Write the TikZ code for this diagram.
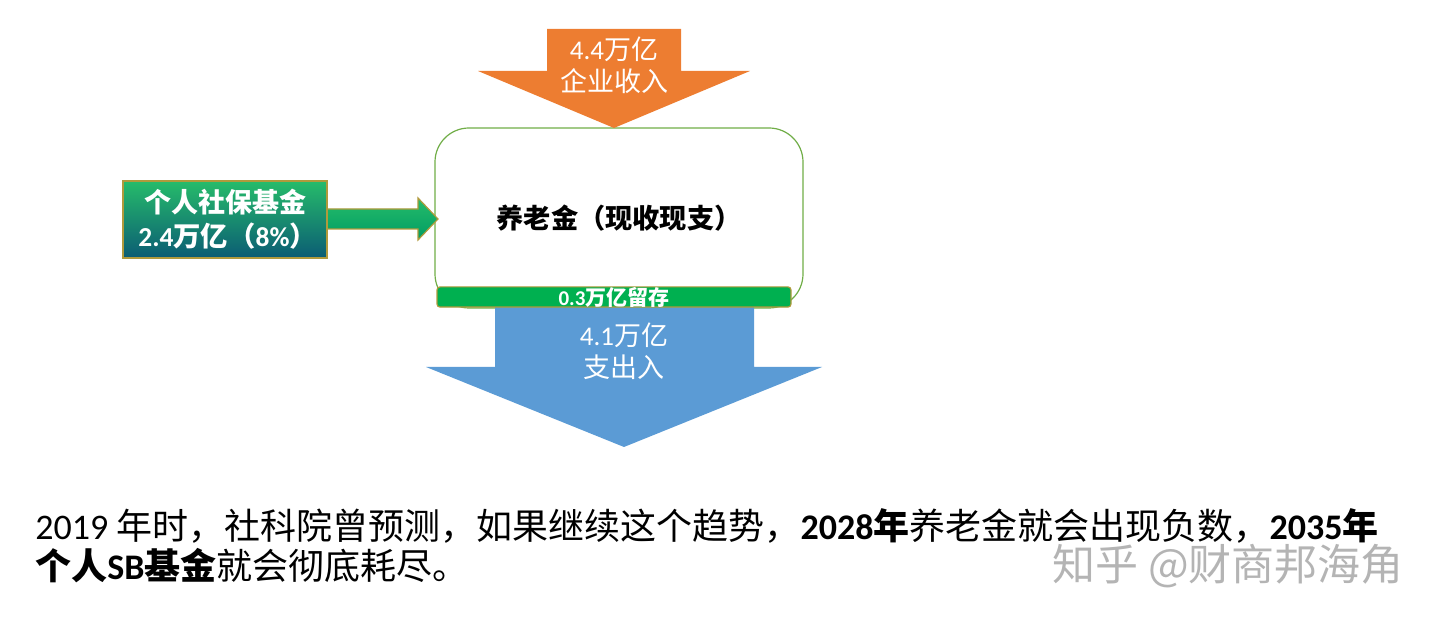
\documentclass[tikz,border=0pt]{standalone}
\usepackage{fontspec}
\setmainfont{Carlito}
\newfontfamily\cjk{Noto Sans CJK SC}
\newcommand{\zh}[1]{{\cjk #1}}
\usepackage{tikz}
\definecolor{flowborder}{HTML}{B09A3C}
\definecolor{boxborder}{HTML}{70AD47}
\definecolor{inorange}{HTML}{ED7D31}
\definecolor{outblue}{HTML}{5B9BD5}
\definecolor{keepgreen}{HTML}{00B050}
\definecolor{flowbottom}{HTML}{0B5C74}
\definecolor{marktext}{HTML}{B4B4B4}
\tikzset{
  label13/.style={text=white,font=\fontsize{13.5}{16}\selectfont,align=center,inner sep=0pt},
  flowfill/.style={top color=keepgreen!85!white,bottom color=flowbottom},
}

\begin{document}
\begin{tikzpicture}[x=0.5pt,y=-0.5pt]
  \useasboundingbox (0,0) rectangle (1440,624);

  % fund box
  \node[draw=boxborder,line width=0.6pt,rounded corners=17pt,minimum width=184pt,minimum height=90pt,
    inner sep=0pt,font=\fontsize{13.6}{16}\selectfont\bfseries] (fund) at (619,218) {\zh{养老金（现收现支）}};

  % flows in and out
  \fill[inorange] (547,29) -- (681,29) -- (681,71) -- (750,71) -- (614,128) -- (478,71) -- (547,71) -- cycle;
  \node[label13] (income) at (614,65) {4.4\zh{万亿}\\\zh{企业收入}};

  \fill[outblue] (495,300) -- (754,300) -- (754,367) -- (822,367) -- (624,447) -- (426,367) -- (495,367) -- cycle;
  \node[label13] (spend) at (624,351) {4.1\zh{万亿}\\\zh{支出入}};

  \draw[flowborder,line width=0.6pt,top color=keepgreen!85!white,bottom color=keepgreen!60!teal]
    (320,209) -- (418,209) -- (418,198) -- (438,219) -- (418,240) -- (418,229) -- (320,229) -- cycle;
  \node[draw=flowborder,line width=0.8pt,flowfill,minimum width=102pt,minimum height=38.5pt,inner sep=0pt] (personal) at (225,219.5) {};
  \node[text=white,font=\fontsize{13.5}{16}\selectfont\bfseries,inner sep=0pt] (personaltop) at (225,202) {\zh{个人社保基金}};
  \node[text=white,font=\fontsize{13.7}{16}\selectfont\bfseries,inner sep=0pt,anchor=west] (personalsum) at (138,236) {2.4\zh{万亿（}8\%\zh{）}};

  \node[draw=flowborder,line width=0.6pt,fill=keepgreen,rounded corners=1.5pt,minimum width=177pt,minimum height=10pt,
    inner sep=0pt,text=white,font=\fontsize{10.5}{10}\selectfont\bfseries] (keep) at (614,297) {0.3\zh{万亿留存}};

  % text below
  \node[anchor=base west,inner sep=0pt,font=\fontsize{18}{20}\selectfont] (lineone) at (35,540)
    {2019 \zh{年时，社科院曾预测，如果继续这个趋势，}\textbf{2028\zh{年}}\zh{养老金就会出现负数，}\textbf{2035\zh{年}}};
  \node[anchor=base west,inner sep=0pt,font=\fontsize{18}{20}\selectfont] (linetwo) at (35,580)
    {\textbf{\zh{个人}SB\zh{基金}}\zh{就会彻底耗尽。}};

  \node[anchor=base west,inner sep=0pt,text=marktext,font=\fontsize{21.5}{24}\selectfont] (mark) at (1052,581) {\zh{知乎 @财商邦海角}};
\end{tikzpicture}
\end{document}
